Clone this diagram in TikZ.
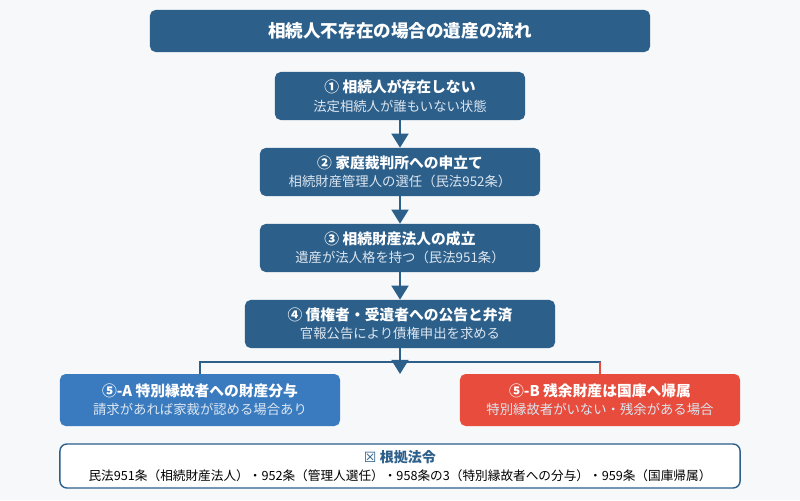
\documentclass[tikz,border=0pt]{standalone}
\usepackage{fontspec}
\setmainfont{Noto Sans CJK JP}
\newfontfamily\symfont{DejaVu Sans}
\usetikzlibrary{arrows.meta}
\definecolor{navy}{HTML}{2C5F8A}
\definecolor{blueA}{HTML}{3A7BC0}
\definecolor{redB}{HTML}{E74C3C}
\definecolor{bgc}{HTML}{F6F8FA}
\definecolor{subc}{HTML}{DCE6F0}
\tikzset{
  stepbox/.style={fill=navy, rounded corners=4pt, text=white, align=center, inner sep=0pt},
  flow/.style={navy, line width=1.6pt, -{Triangle[length=10pt,width=12pt]}},
}
\newcommand{\boxtext}[2]{{\fontsize{10.5pt}{12pt}\selectfont\bfseries #1}\\[1pt]{\fontsize{9.5pt}{11pt}\selectfont\color{subc}#2}}
\begin{document}
\begin{tikzpicture}[x=0.025cm, y=-0.025cm]
\fill[bgc] (0,0) rectangle (800,500);
\useasboundingbox (0,0) rectangle (800,500);
% title
\node[stepbox, minimum width=12.5cm, minimum height=1.05cm] (title) at (400,31)
  {\fontsize{12.5pt}{14pt}\selectfont\bfseries 相続人不存在の場合の遺産の流れ};
% steps
\node[stepbox, minimum width=6.25cm, minimum height=1.2cm] (s1) at (400,96)
  {\boxtext{① 相続人が存在しない}{法定相続人が誰もいない状態}};
\node[stepbox, minimum width=7cm, minimum height=1.2cm] (s2) at (400,172)
  {\boxtext{② 家庭裁判所への申立て}{相続財産管理人の選任（民法952条）}};
\node[stepbox, minimum width=7cm, minimum height=1.2cm] (s3) at (400,248)
  {\boxtext{③ 相続財産法人の成立}{遺産が法人格を持つ（民法951条）}};
\node[stepbox, minimum width=7.75cm, minimum height=1.2cm] (s4) at (400,324)
  {\boxtext{④ 債権者・受遺者への公告と弁済}{官報公告により債権申出を求める}};
%
\draw[flow] (s1.south) -- (s2.north);
\draw[flow] (s2.south) -- (s3.north);
\draw[flow] (s3.south) -- (s4.north);
\coordinate (fork) at (400,374);
\draw[flow] (s4.south) -- (fork);
% branches
\node[stepbox, fill=blueA, minimum width=7cm, minimum height=1.3cm] (a) at (200,400)
  {\boxtext{⑤-A 特別縁故者への財産分与}{請求があれば家裁が認める場合あり}};
\node[stepbox, fill=redB, minimum width=7cm, minimum height=1.3cm] (b) at (600,400)
  {\boxtext{⑤-B 残余財産は国庫へ帰属}{特別縁故者がいない・残余がある場合}};
\draw[navy, line width=1pt] (a.north) |- (400,362) -| (b.north);
\draw[redB, line width=1pt] (600,362) -- (b.north);
% law box
\node[draw=navy, fill=white, line width=1pt, rounded corners=5pt, minimum width=17cm, minimum height=1.1cm, align=center, inner sep=0pt] (law) at (400,466)
  {{\fontsize{10pt}{11pt}\selectfont\bfseries\color{navy}{\symfont ☒} 根拠法令}\\[1pt]{\fontsize{9pt}{10pt}\selectfont 民法951条（相続財産法人）・952条（管理人選任）・958条の3（特別縁故者への分与）・959条（国庫帰属）}};
\end{tikzpicture}
\end{document}
